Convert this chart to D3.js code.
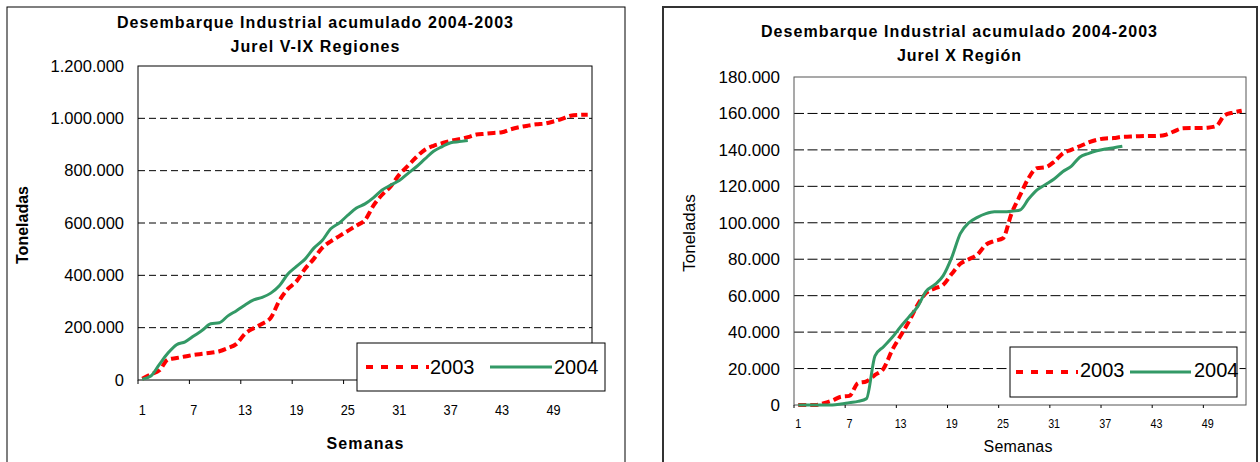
<!DOCTYPE html>
<html>
<head>
<meta charset="utf-8">
<script src="https://cdn.jsdelivr.net/npm/d3@7"></script>
<style>
  html, body { margin: 0; padding: 0; background: #fff; }
  svg { display: block; }
</style>
</head>
<body>
<svg id="chart" width="1260" height="462"></svg>
<script>
// ---------------- DATA ----------------
const weeks = d3.range(1, 54); // Semanas 1..53
const xTickLabels = [1, 7, 13, 19, 25, 31, 37, 43, 49];
const seriesNames = ["2003", "2004"];

// Jurel V-IX Regiones (toneladas acumuladas)
const vix2003 = [5000, 22000, 37000, 78000, 84000, 90000, 96000, 100000, 104000, 110000,
  122000, 138000, 177000, 198000, 215000, 238000, 303000, 348000, 377000, 425000,
  462000, 505000, 530000, 550000, 570000, 590000, 611000, 667000, 708000, 740000,
  785000, 818000, 852000, 880000, 895000, 905000, 914000, 920000, 928000, 938000,
  941000, 944000, 947000, 958000, 966000, 972000, 977000, 980000, 988000, 998000,
  1010000, 1013000, 1014000];
const vix2004 = [3000, 15000, 60000, 103000, 135000, 146000, 168000, 190000, 215000, 219000,
  245000, 265000, 287000, 306000, 316000, 332000, 360000, 405000, 434000, 462000,
  503000, 533000, 578000, 600000, 630000, 657000, 673000, 697000, 726000, 745000,
  762000, 789000, 815000, 845000, 874000, 892000, 907000, 911000, 915000];
const vixYTicks = [0, 200000, 400000, 600000, 800000, 1000000, 1200000];

// Jurel X Región (toneladas acumuladas)
const x2003 = [0, 0, 0, 1000, 2500, 4500, 5000, 12000, 13000, 16500,
  20000, 30000, 38000, 46000, 55000, 61500, 64000, 66000, 72000, 77500,
  80000, 82500, 88000, 90000, 91500, 105000, 115000, 124500, 130000, 130500,
  133500, 138000, 140000, 142000, 144000, 145500, 146300, 146500, 147200, 147300,
  147500, 147600, 147700, 148200, 150000, 151800, 152000, 152000, 152200, 153000,
  159000, 160500, 161500];
const x2004 = [0, 0, 0, 0, 0, 500, 1300, 2000, 3500, 27000,
  32000, 37000, 43000, 48500, 54000, 62500, 66000, 71000, 81000, 94000,
  100000, 103000, 105000, 106000, 106000, 106300, 107000, 113000, 118000, 121000,
  124000, 128000, 131000, 136000, 138000, 139500, 140500, 141200, 142000];
const xYTicks = [0, 20000, 40000, 60000, 80000, 100000, 120000, 140000, 160000, 180000];

// ---------------- DRAWING ----------------
const FONT = "'Liberation Sans', Arial, sans-serif";
const RED = "#FF0000", GREEN = "#339966";
const loc = d3.formatLocale({decimal: ",", thousands: ".", grouping: [3], currency: ["", ""]});
const fmt = loc.format(",d");
const svg = d3.select("#chart");

function drawChart(cfg) {
  const g = svg.append("g");
  // outer frame
  g.append("rect")
    .attr("x", cfg.frame[0]).attr("y", cfg.frame[1])
    .attr("width", cfg.frame[2] - cfg.frame[0]).attr("height", cfg.frame[3] - cfg.frame[1])
    .attr("fill", "#fff").attr("stroke", cfg.frameColor).attr("stroke-width", cfg.frameWidth);

  const x = d3.scaleBand().domain(weeks).range([cfg.px0, cfg.px1]).padding(0);
  const y = d3.scaleLinear().domain([0, cfg.yMax]).range([cfg.py1, cfg.py0]);

  // gridlines
  g.append("g").selectAll("line")
    .data(cfg.yTicks.filter(v => v > 0 && v < cfg.yMax))
    .join("line")
    .attr("x1", cfg.px0).attr("x2", cfg.px1)
    .attr("y1", d => y(d)).attr("y2", d => y(d))
    .attr("stroke", "#000").attr("stroke-width", 1)
    .attr("stroke-dasharray", cfg.gridDash);

  // plot border
  g.append("rect")
    .attr("x", cfg.px0).attr("y", cfg.py0)
    .attr("width", cfg.px1 - cfg.px0).attr("height", cfg.py1 - cfg.py0)
    .attr("fill", "none").attr("stroke", cfg.plotBorder).attr("stroke-width", 1);

  // y axis labels
  g.append("g").attr("transform", `translate(${cfg.px0},0)`)
    .call(d3.axisLeft(y).tickValues(cfg.yTicks).tickFormat(fmt).tickSize(0).tickPadding(cfg.yPad))
    .call(a => a.select(".domain").remove())
    .call(a => a.selectAll("text")
      .attr("font-size", cfg.yFont).attr("font-family", FONT).attr("fill", "#000"));

  // x axis labels
  g.append("g").attr("transform", `translate(0,${cfg.py1})`)
    .call(d3.axisBottom(x).tickValues(xTickLabels).tickSize(0).tickPadding(cfg.xPad))
    .call(a => a.select(".domain").remove())
    .call(a => a.selectAll("text")
      .attr("font-size", cfg.xFont).attr("font-family", FONT).attr("fill", "#000")
      .attr("transform", `scale(${cfg.xScaleX},1)`));

  // x tick marks at category boundaries
  g.append("g").selectAll("line").data(xTickLabels).join("line")
    .attr("x1", d => x(d)).attr("x2", d => x(d))
    .attr("y1", cfg.py1).attr("y2", cfg.py1 + cfg.tickLen)
    .attr("stroke", "#000").attr("stroke-width", 1);

  // series
  const line = d3.line()
    .x((d, i) => x(weeks[i]) + x.bandwidth() / 2)
    .y(d => y(d))
    .curve(d3.curveMonotoneX);
  g.append("path").datum(cfg.s2003).attr("d", line)
    .attr("fill", "none").attr("stroke", RED).attr("stroke-width", 4)
    .attr("stroke-dasharray", "8,4");
  g.append("path").datum(cfg.s2004).attr("d", line)
    .attr("fill", "none").attr("stroke", GREEN).attr("stroke-width", 3)
    .attr("stroke-linejoin", "round");

  // titles
  g.append("text").attr("x", cfg.titleX).attr("y", cfg.titleY1)
    .attr("text-anchor", "middle").attr("font-family", FONT).attr("font-weight", "bold")
    .attr("font-size", 16).attr("textLength", 396).attr("lengthAdjust", "spacing")
    .text(cfg.title1);
  g.append("text").attr("x", cfg.titleX).attr("y", cfg.titleY2)
    .attr("text-anchor", "middle").attr("font-family", FONT).attr("font-weight", "bold")
    .attr("font-size", 16).attr("textLength", cfg.title2Len).attr("lengthAdjust", "spacing")
    .text(cfg.title2);

  // axis titles
  g.append("text")
    .attr("transform", `translate(${cfg.yTitleX},${cfg.yTitleY}) rotate(-90)`)
    .attr("text-anchor", "middle").attr("dominant-baseline", "central")
    .attr("font-family", FONT).attr("font-weight", cfg.axisWeight)
    .attr("font-size", cfg.yTitleFont).text("Toneladas");
  g.append("text").attr("x", cfg.xTitleX).attr("y", cfg.xTitleY)
    .attr("text-anchor", "middle").attr("font-family", FONT).attr("font-weight", cfg.axisWeight)
    .attr("font-size", 16).attr("textLength", cfg.xTitleLen).attr("lengthAdjust", "spacing")
    .text("Semanas");

  // legend
  const L = cfg.legend;
  g.append("rect").attr("x", L.x0).attr("y", L.y0)
    .attr("width", L.x1 - L.x0).attr("height", L.y1 - L.y0)
    .attr("fill", "#fff").attr("stroke", "#000").attr("stroke-width", 1);
  const ly = L.lineY;
  g.append("line").attr("x1", L.r0).attr("x2", L.r1).attr("y1", ly).attr("y2", ly)
    .attr("stroke", RED).attr("stroke-width", 4).attr("stroke-dasharray", "7,8");
  g.append("text").attr("x", L.t1).attr("y", L.textY).attr("font-family", FONT)
    .attr("font-size", 20).text(seriesNames[0]);
  g.append("line").attr("x1", L.g0).attr("x2", L.g1).attr("y1", ly).attr("y2", ly)
    .attr("stroke", GREEN).attr("stroke-width", 3);
  g.append("text").attr("x", L.t2).attr("y", L.textY).attr("font-family", FONT)
    .attr("font-size", 20).text(seriesNames[1]);
}

drawChart({
  frame: [7, 7, 625, 470], frameColor: "#000", frameWidth: 1,
  px0: 138, px1: 592, py0: 66, py1: 380,
  yMax: 1200000, yTicks: vixYTicks, gridDash: "7,4", plotBorder: "#000",
  yPad: 14, yFont: 16.5, xPad: 24, xFont: 15.5, xScaleX: 0.82, tickLen: 4,
  s2003: vix2003, s2004: vix2004,
  titleX: 315, titleY1: 28, titleY2: 52,
  title1: "Desembarque Industrial acumulado 2004-2003",
  title2: "Jurel V-IX Regiones", title2Len: 169,
  yTitleX: 22, yTitleY: 225, yTitleFont: 16, axisWeight: "bold",
  xTitleX: 365, xTitleY: 449, xTitleLen: 77,
  legend: {x0: 357, y0: 343, x1: 605, y1: 391, lineY: 367, textY: 374,
           r0: 366, r1: 429, t1: 430, g0: 490, g1: 552, t2: 554}
});

drawChart({
  frame: [663, 7, 1257, 470], frameColor: "#333", frameWidth: 2,
  px0: 794, px1: 1246, py0: 77, py1: 405,
  yMax: 180000, yTicks: xYTicks, gridDash: "10,3.5", plotBorder: "#555",
  yPad: 14, yFont: 17, xPad: 14, xFont: 12.5, xScaleX: 0.86, tickLen: 3,
  s2003: x2003, s2004: x2004,
  titleX: 959, titleY1: 37, titleY2: 61,
  title1: "Desembarque Industrial acumulado 2004-2003",
  title2: "Jurel X Región", title2Len: 124,
  yTitleX: 689, yTitleY: 233, yTitleFont: 17, axisWeight: "normal",
  xTitleX: 1018, xTitleY: 452, xTitleLen: 69,
  legend: {x0: 1010, y0: 347, x1: 1237, y1: 397, lineY: 372, textY: 377,
           r0: 1016, r1: 1078, t1: 1080, g0: 1130, g1: 1191, t2: 1194}
});
</script>
</body>
</html>
